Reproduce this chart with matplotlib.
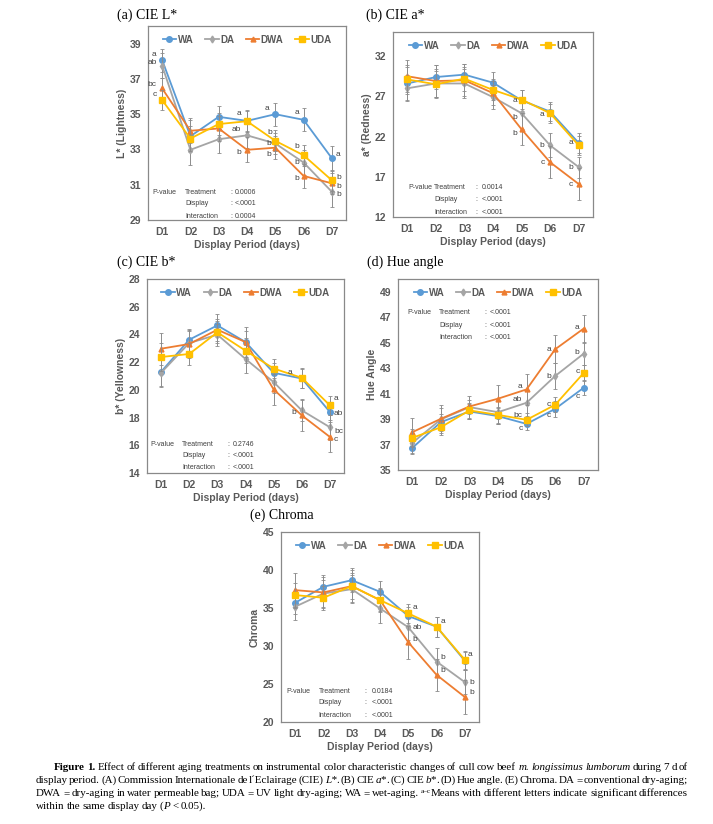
import matplotlib.pyplot as plt
import numpy as np
from matplotlib.lines import Line2D

plt.rcParams['font.family'] = ['Liberation Sans', 'DejaVu Sans']

days = ['D1', 'D2', 'D3', 'D4', 'D5', 'D6', 'D7']
series = ['WA', 'DA', 'DWA', 'UDA']
colors = {'WA': '#5B9BD5', 'DA': '#A5A5A5', 'DWA': '#ED7D31', 'UDA': '#FFC000'}
markers = {'WA': 'o', 'DA': 'd', 'DWA': '^', 'UDA': 's'}
msizes = {'WA': 4, 'DA': 3.5, 'DWA': 3.5, 'UDA': 4.5}

# (a) CIE L*
lightness = {
    'WA':  [38.07, 33.75, 34.85, 34.62, 35.0, 34.68, 32.5],
    'DA':  [37.75, 32.98, 33.58, 33.8, 33.34, 32.26, 30.6],
    'DWA': [36.46, 34.06, 34.19, 32.98, 33.1, 31.5, 31.08],
    'UDA': [35.8, 33.62, 34.44, 34.6, 33.49, 32.67, 31.25],
}
lightness_err = {
    'WA':  [0.65, 0.9, 0.6, 0.6, 0.65, 0.65, 0.7],
    'DA':  [0.7, 0.85, 0.8, 0.7, 0.6, 0.7, 0.85],
    'DWA': [0.6, 0.7, 0.7, 0.7, 0.65, 0.7, 0.6],
    'UDA': [0.55, 0.7, 0.6, 0.6, 0.6, 0.6, 0.6],
}
lightness_letters = [
    ('WA', 0, 'a', -4, 4), ('DA', 0, 'ab', -4, 2), ('DWA', 0, 'bc', -4, 3), ('UDA', 0, 'c', -4, 4),
    ('WA', 3, 'a', -4, 5), ('DA', 3, 'ab', -4, 4), ('DWA', 3, 'b', -4, -2),
    ('WA', 4, 'a', -4, 4), ('UDA', 4, 'b', -2, 6), ('DA', 4, 'b', -3, 0), ('DWA', 4, 'b', -3, -5),
    ('WA', 5, 'a', -3, 5), ('UDA', 5, 'b', -3, 6), ('DA', 5, 'b', -3, 0), ('DWA', 5, 'b', -3, -2),
    ('WA', 6, 'a', 3, 3), ('UDA', 6, 'b', 3, 2), ('DWA', 6, 'b', 3, -2), ('DA', 6, 'b', 3, -2),
]
lightness_p = ['0.0006', '<.0001', '0.0004']

# (b) CIE a*
redness = {
    'WA':  [28.6, 29.4, 29.7, 28.7, 26.5, 25.1, 21.2],
    'DA':  [28.0, 28.6, 28.6, 26.9, 24.9, 20.9, 18.2],
    'DWA': [29.5, 28.9, 29.0, 27.4, 22.9, 18.8, 16.1],
    'UDA': [29.1, 28.5, 29.2, 27.8, 26.6, 24.9, 20.9],
}
redness_err = {
    'WA':  [2.0, 1.5, 1.3, 1.3, 1.3, 1.2, 1.2],
    'DA':  [1.6, 1.8, 1.8, 1.5, 2.0, 1.5, 1.3],
    'DWA': [2.0, 2.0, 2.0, 1.5, 2.0, 2.0, 2.0],
    'UDA': [1.8, 1.6, 1.5, 1.3, 1.2, 1.2, 1.2],
}
redness_letters = [
    ('WA', 4, 'a', -3, 0), ('DA', 4, 'b', -3, -3), ('DWA', 4, 'b', -3, -3),
    ('WA', 5, 'a', -4, -2), ('DA', 5, 'b', -4, 0), ('DWA', 5, 'c', -4, 0),
    ('WA', 6, 'a', -4, 0), ('DA', 6, 'b', -4, 0), ('DWA', 6, 'c', -4, 0),
]
redness_p = ['0.0014', '<.0001', '<.0001']

# (c) CIE b*
yellowness = {
    'WA':  [21.3, 23.62, 24.65, 23.45, 21.23, 20.82, 18.4],
    'DA':  [21.23, 23.38, 23.98, 22.23, 20.56, 18.52, 17.3],
    'DWA': [22.97, 23.31, 24.34, 23.45, 20.03, 18.16, 16.6],
    'UDA': [22.37, 22.59, 24.15, 22.83, 21.54, 20.87, 18.88],
}
yellowness_err = {
    'WA':  [1.0, 0.8, 0.8, 0.8, 0.7, 0.7, 0.6],
    'DA':  [1.0, 0.9, 0.8, 1.0, 0.8, 0.8, 0.9],
    'DWA': [1.15, 1.0, 0.8, 1.1, 1.1, 1.1, 1.1],
    'UDA': [1.0, 0.8, 0.8, 0.9, 0.7, 0.7, 0.7],
}
yellowness_letters = [
    ('UDA', 5, 'a', -7, 4), ('DWA', 5, 'b', -4, 2),
    ('UDA', 6, 'a', 3, 5), ('WA', 6, 'ab', 3, -1), ('DA', 6, 'bc', 3, -3), ('DWA', 6, 'c', 3, -2),
]
yellowness_p = ['0.2746', '<.0001', '<.0001']

# (d) Hue angle
hue = {
    'WA':  [36.73, 38.76, 39.6, 39.23, 38.62, 39.8, 41.46],
    'DA':  [37.13, 38.97, 39.94, 39.54, 40.28, 42.38, 44.14],
    'DWA': [37.97, 39.02, 39.99, 40.6, 41.33, 44.48, 46.11],
    'UDA': [37.52, 38.36, 39.68, 39.33, 38.94, 40.12, 42.62],
}
hue_err = {
    'WA':  [0.5, 0.6, 0.6, 0.6, 0.5, 0.6, 0.6],
    'DA':  [0.8, 0.9, 0.9, 0.9, 1.0, 1.0, 0.9],
    'DWA': [1.1, 1.1, 0.5, 1.1, 1.2, 1.1, 1.1],
    'UDA': [0.7, 0.6, 0.6, 0.6, 0.5, 0.6, 0.6],
}
hue_letters = [
    ('DWA', 4, 'a', -3, 2), ('DA', 4, 'ab', -3, 2), ('UDA', 4, 'bc', -3, 3), ('WA', 4, 'c', -3, -3),
    ('DWA', 5, 'a', -3, 0), ('DA', 5, 'b', -3, 0), ('UDA', 5, 'c', -3, 0), ('WA', 5, 'c', -3, -5),
    ('DWA', 6, 'a', -3, 1), ('DA', 6, 'b', -3, 1), ('UDA', 6, 'c', -3, 1), ('WA', 6, 'c', -3, -6),
]
hue_p = ['<.0001', '<.0001', '<.0001']

# (e) Chroma
chroma = {
    'WA':  [35.69, 37.79, 38.66, 37.13, 33.94, 32.54, 28.05],
    'DA':  [35.17, 36.9, 37.48, 34.95, 32.46, 27.95, 25.24],
    'DWA': [37.35, 37.05, 37.88, 36.04, 30.49, 26.2, 23.28],
    'UDA': [36.7, 36.35, 37.88, 36.04, 34.29, 32.54, 28.17],
}
chroma_err = {
    'WA':  [1.5, 1.6, 1.6, 1.4, 1.2, 1.3, 1.2],
    'DA':  [1.8, 1.8, 1.8, 1.9, 1.7, 1.8, 1.6],
    'DWA': [2.3, 2.0, 2.1, 1.6, 2.2, 2.1, 2.2],
    'UDA': [1.6, 1.6, 1.7, 1.5, 1.2, 1.3, 1.2],
}
chroma_letters = [
    ('UDA', 4, 'a', 3, 4), ('DA', 4, 'ab', 3, 0), ('DWA', 4, 'b', 3, 2),
    ('UDA', 5, 'a', 3, 4), ('DA', 5, 'b', 3, 3), ('DWA', 5, 'b', 3, 3),
    ('UDA', 6, 'a', 2, 4), ('DA', 6, 'b', 3, 0), ('DWA', 6, 'b', 3, 3),
]
chroma_p = ['0.0184', '<.0001', '<.0001']

W, H = 713, 824
GREY = '#595959'
fig = plt.figure(figsize=(W / 100, H / 100), dpi=100)


def px_axes(l, t, r, b):
    return fig.add_axes([l / W, 1 - b / H, (r - l) / W, (b - t) / H])


def draw_panel(box, title, title_xy, values, errs, letters, ylabel, ylim, yticks,
               pvals, p_x, p_y):
    ax = px_axes(*box)
    x = np.arange(1, 8)
    for i, s in enumerate(series):
        ax.errorbar(x, values[s], yerr=errs[s], color=colors[s], marker=markers[s],
                    ms=msizes[s], lw=1.3, ecolor='#8c8c8c', elinewidth=0.7,
                    capsize=1.5, capthick=0.6, zorder=3 + i)
    for s, d, txt, dx, dy in letters:
        ax.annotate(txt, (d + 1, values[s][d]), xytext=(dx, dy), textcoords='offset points',
                    ha='right' if dx < 0 else 'left', va='center', fontsize=6,
                    color='#404040', zorder=10)
    ax.set_xlim(0.5, 7.5)
    ax.set_ylim(*ylim)
    ax.set_xticks(x)
    ax.set_xticklabels(days)
    ax.set_yticks(yticks)
    ax.tick_params(length=0, labelsize=7.5, labelcolor=GREY, pad=5)
    for lab in ax.get_xticklabels() + ax.get_yticklabels():
        lab.set_fontweight('bold')
    for sp in ax.spines.values():
        sp.set_color('#898989')
        sp.set_linewidth(0.9)
    ax.set_xlabel('Display Period (days)', fontsize=7.5, fontweight='bold', color=GREY, labelpad=2)
    ax.set_ylabel(ylabel, fontsize=7.5, fontweight='bold', color=GREY, labelpad=2)

    handles = [Line2D([], [], color=colors[s], marker=markers[s], ms=msizes[s], lw=1.3)
               for s in series]
    leg = ax.legend(handles, series, loc='upper center', bbox_to_anchor=(0.5, 1.0), ncol=4,
                    frameon=False, fontsize=7, handlelength=1.4, handletextpad=0.15,
                    columnspacing=1.2, borderaxespad=0.5)
    for t in leg.get_texts():
        t.set_color(GREY)
        t.set_fontweight('bold')

    rows = ['Treatment', 'Display', 'Interaction']
    ptext = dict(transform=ax.transAxes, fontsize=5.0, color='#404040', va='center')
    ax.text(p_x[0], p_y[0], 'P-value', **ptext)
    for k in range(3):
        ax.text(p_x[1], p_y[k], rows[k], **ptext)
        ax.text(p_x[2], p_y[k], ':', **ptext)
        ax.text(p_x[3], p_y[k], pvals[k], **ptext)

    fig.text(title_xy[0] / W, 1 - title_xy[1] / H, title, family='Liberation Serif',
             fontsize=10, va='center', ha='left')
    return ax


draw_panel((148, 26, 346, 220), '(a) CIE L*', (117, 15), lightness, lightness_err,
           lightness_letters, 'L* (Lightness)', (29, 40), range(29, 40, 2),
           lightness_p, (0.02, 0.187, 0.414, 0.44), (0.144, 0.085, 0.02))
draw_panel((393, 32, 593, 217), '(b) CIE a*', (366, 15), redness, redness_err,
           redness_letters, 'a* (Redness)', (12, 35), range(12, 33, 5),
           redness_p, (0.075, 0.205, 0.41, 0.445), (0.162, 0.092, 0.027))
draw_panel((147, 279, 344, 473), '(c) CIE b*', (117, 262), yellowness, yellowness_err,
           yellowness_letters, 'b* (Yellowness)', (14, 28), range(14, 29, 2),
           yellowness_p, (0.015, 0.178, 0.406, 0.436), (0.149, 0.088, 0.026))
draw_panel((398, 279, 598, 470), '(d) Hue angle', (367, 262), hue, hue_err,
           hue_letters, 'Hue Angle', (35, 50), range(35, 50, 2),
           hue_p, (0.045, 0.205, 0.43, 0.46), (0.827, 0.759, 0.696))
draw_panel((281, 532, 479, 722), '(e) Chroma', (250, 515), chroma, chroma_err,
           chroma_letters, 'Chroma', (20, 45), range(20, 46, 5),
           chroma_p, (0.025, 0.19, 0.42, 0.46), (0.163, 0.1, 0.032))

# caption, justified word by word
caption = [
    (54, 770, True, [('Figure 1.', 'bold'),
                     (' Effect of different aging treatments on instrumental color characteristic '
                      'changes of cull cow beef ', 'normal'),
                     ('m. longissimus lumborum', 'italic'), (' during 7 d of', 'normal')]),
    (36, 783, True, [('display period. (A) Commission Internationale de l\u00b4Eclairage (CIE) ', 'normal'),
                     ('L*', 'italic'), ('. (B) CIE ', 'normal'), ('a*', 'italic'),
                     ('. (C) CIE ', 'normal'), ('b*', 'italic'),
                     ('. (D) Hue angle. (E) Chroma. DA = conventional dry-aging;', 'normal')]),
    (36, 796, True, [('DWA = dry-aging in water permeable bag; UDA = UV light dry-aging; '
                      'WA = wet-aging. ', 'normal'), ('a\u2013c', 'sup'),
                     ('Means with different letters indicate significant differences', 'normal')]),
    (36, 809, False, [('within the same display day (', 'normal'), ('P', 'italic'),
                      (' < 0.05).', 'normal')]),
]
CAP_RIGHT = 688
CAP_SIZE = 7.9
renderer = fig.canvas.get_renderer()


def split_words(runs):
    words = [[]]
    for txt, st in runs:
        parts = txt.split(' ')
        for i, p in enumerate(parts):
            if i > 0:
                words.append([])
            if p:
                words[-1].append((p, st))
    return [w for w in words if w]


def make_piece(txt, st, x, y):
    kw = dict(family='Liberation Serif', fontsize=CAP_SIZE, va='baseline', ha='left')
    dy = 0
    if st == 'bold':
        kw['fontweight'] = 'bold'
    elif st == 'italic':
        kw['style'] = 'italic'
    elif st == 'sup':
        kw['fontsize'] = 5.2
        dy = 3
    t = fig.text(x / W, 1 - (y - dy) / H, txt, **kw)
    return t, t.get_window_extent(renderer).width


for x0, y0, justify, runs in caption:
    words = split_words(runs)
    placed = []
    for w in words:
        pieces = []
        xw = 0
        for txt, st in w:
            t, wd = make_piece(txt, st, x0 + xw, y0)
            pieces.append((t, xw))
            xw += wd
        placed.append((pieces, xw))
    total = sum(p[1] for p in placed)
    gap = (CAP_RIGHT - x0 - total) / (len(placed) - 1) if justify else 2.2
    cx = x0
    for pieces, wd in placed:
        for t, off in pieces:
            t.set_x((cx + off) / W)
        cx += wd + gap

fig.savefig('out.png', dpi=100)
